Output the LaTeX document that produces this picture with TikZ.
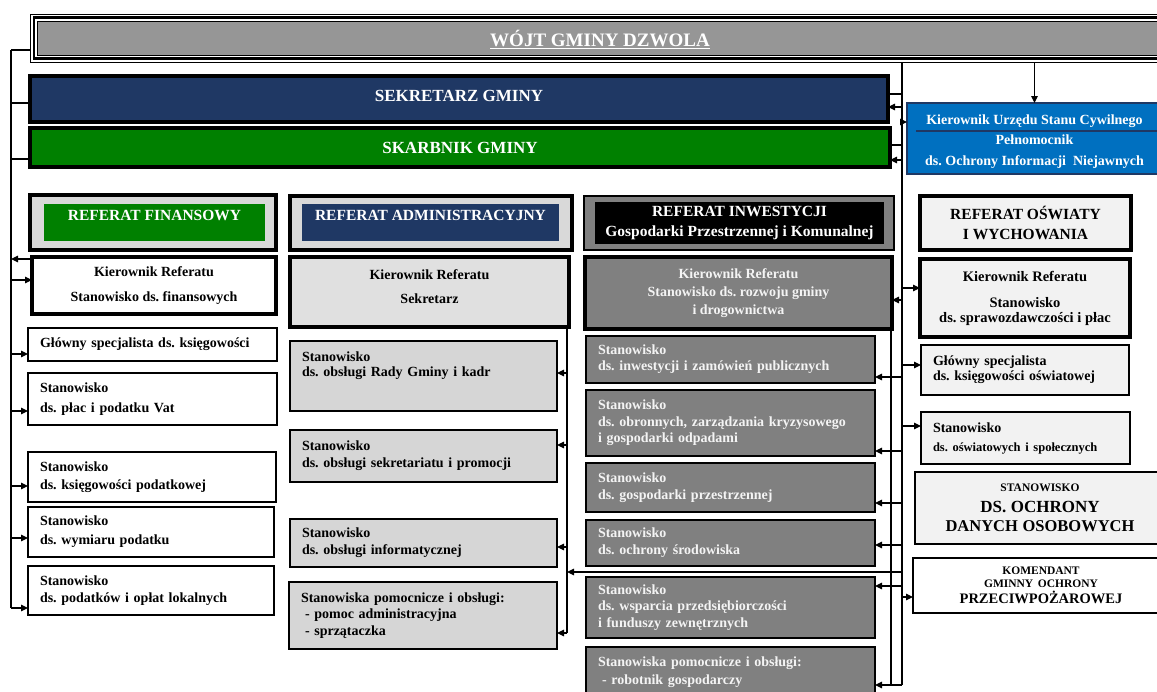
\documentclass[tikz,border=0pt]{standalone}
\usepackage{fontspec}
\setmainfont{Liberation Serif}
\usetikzlibrary{arrows.meta,calc}
\newcommand\myfs[2]{\fontsize{#1}{#2}\selectfont}
\frenchspacing
\definecolor{wojtgrey}{HTML}{969696}
\definecolor{navy}{HTML}{1F3864}
\definecolor{sgreen}{HTML}{008000}
\definecolor{ring}{HTML}{D9D9D9}
\definecolor{usc}{HTML}{0070C0}
\definecolor{invgrey}{HTML}{808080}
\definecolor{invtext}{HTML}{F4F4F4}
\definecolor{lightbox}{HTML}{F2F2F2}
\definecolor{admk}{HTML}{E0E0E0}
\definecolor{admstip}{HTML}{D6D6D6}
\tikzset{
  conn/.style={line width=1.2pt},
  arr/.style={line width=1.2pt,-{Triangle[length=7pt,width=6.5pt]}},
  bxat/.style n args={4}{at={(#1,#2)},anchor=north west,minimum width={#3-#1},minimum height={#4-#2}},
  boxbase/.style={rectangle,inner sep=0pt,outer sep=0pt,font=\bfseries\myfs{14}{18}},
  wbox/.style={boxbase,draw=black,line width=2.5pt,fill=white},
  kbox/.style={wbox,line width=3.5pt},
  abox/.style={boxbase,draw=black,line width=2.5pt,fill=admstip},
  ibox/.style={boxbase,draw=black,line width=2.5pt,fill=invgrey,text=invtext},
  rbox/.style={boxbase,draw=black,line width=2.5pt,fill=lightbox},
  ltext/.style={align=left,text width=#1},
  hdrout/.style={boxbase,draw=black,line width=4pt,fill=ring},
}
\begin{document}
\begin{tikzpicture}[x=1pt,y=-1pt]
\useasboundingbox (0,0) rectangle (1157,691);
\fill[white] (0,0) rectangle (1157,691);
\clip (0,0) rectangle (1157,691);

% ---------- top ----------
\node[boxbase,draw=black,line width=1pt,bxat={30}{14}{1175}{62}] (wojtout) {};
\node[boxbase,draw=black,line width=2.5pt,bxat={33.8}{17.4}{1175}{58.4}] (wojtmid) {};
\node[boxbase,draw=black,line width=0.8pt,fill=wojtgrey,text=white,font=\bfseries\myfs{19}{23},
      text height=20pt,text depth=2.6pt,bxat={37}{21}{1163}{55}] (wojt) {\underline{WÓJT GMINY DZWOLA}};

\node[boxbase,draw=black,line width=4pt,fill=navy,text=white,font=\bfseries\myfs{17}{20},
      text depth=6pt,bxat={30}{76}{888}{122}] (sek) {SEKRETARZ GMINY};
\node[boxbase,draw=black,line width=4pt,fill=sgreen,text=white,font=\bfseries\myfs{17}{20},
      bxat={30}{128}{890}{167}] (skarb) {SKARBNIK GMINY};

\node[boxbase,draw=navy,line width=2.5pt,fill=usc,bxat={907}{103}{1162}{174}] (usc) {};
\draw[navy,line width=1.5pt] ($(usc.north west)+(9,28)$) -- ($(usc.north east)+(0,28)$);
\node[boxbase,text=white,align=center,font=\bfseries\myfs{14}{20.5}] (usct) at (1034.5,141.5)
  {Kierownik Urzędu Stanu Cywilnego\\Pełnomocnik\\ds. Ochrony Informacji\ \ Niejawnych};

% ---------- referat headers ----------
\node[hdrout,bxat={30}{195}{276}{250}] (finH) {};
\node[boxbase,fill=sgreen,text=white,font=\bfseries\myfs{15.5}{19},text height=11pt,text depth=15pt,
      bxat={44}{204}{265}{241}] (finHin) {REFERAT FINANSOWY};
\node[hdrout,bxat={290}{196}{572}{250}] (admH) {};
\node[boxbase,fill=navy,text=white,font=\bfseries\myfs{15.5}{19},text height=11pt,text depth=15pt,
      bxat={302}{204}{559}{241}] (admHin) {REFERAT ADMINISTRACYJNY};
\node[boxbase,draw=black,line width=1.5pt,fill=invgrey,bxat={584}{196}{894}{250}] (invH) {};
\node[boxbase,fill=black,text=white,align=center,font=\bfseries\myfs{15.5}{20},
      bxat={595}{202}{884}{244}] (invHin) {REFERAT INWESTYCJI\\Gospodarki Przestrzennej i Komunalnej};
\node[boxbase,draw=black,line width=4pt,fill=lightbox,align=center,font=\bfseries\myfs{15.5}{20},
      bxat={920}{196}{1131}{250}] (oswH) {REFERAT OŚWIATY\\I WYCHOWANIA};

% ---------- finanse ----------
\node[kbox,align=center,font=\bfseries\myfs{14}{25},bxat={32}{257}{276}{314}] (f1) {Kierownik Referatu\\Stanowisko ds. finansowych};
\node[wbox,ltext=225pt,bxat={28}{328}{277}{361}] (f2) {Główny specjalista ds. księgowości};
\node[wbox,ltext=225pt,font=\bfseries\myfs{14}{20},bxat={28}{373}{277}{425}] (f3) {Stanowisko\\ds. płac i podatku Vat};
\node[wbox,ltext=224pt,font=\bfseries\myfs{14}{18},bxat={28}{452}{276}{502}] (f4) {Stanowisko\\ds. księgowości podatkowej};
\node[wbox,ltext=222pt,font=\bfseries\myfs{14}{19},bxat={28}{507}{274}{557}] (f5) {Stanowisko\\ds. wymiaru podatku};
\node[wbox,ltext=222pt,font=\bfseries\myfs{14}{17},bxat={28}{566}{274}{615}] (f6) {Stanowisko\\ds. podatków i opłat lokalnych};

% ---------- administracja ----------
\node[kbox,fill=admk,align=center,font=\bfseries\myfs{14}{24},bxat={290}{257}{569}{327}] (a1) {Kierownik Referatu\\Sekretarz\\[-14pt]\mbox{}};
\node[abox,ltext=243pt,font=\bfseries\myfs{14}{15},bxat={290}{341}{557}{411}] (a2) {Stanowisko\\ds. obsługi Rady Gminy i kadr\\[9pt]\mbox{}};
\node[abox,ltext=243pt,font=\bfseries\myfs{14}{17},bxat={290}{430}{557}{482}] (a3) {Stanowisko\\ds. obsługi sekretariatu i promocji};
\node[abox,ltext=243pt,font=\bfseries\myfs{14}{17},bxat={290}{519}{557}{567}] (a4) {Stanowisko\\ds. obsługi informatycznej};
\node[abox,ltext=244pt,font=\bfseries\myfs{14}{16.5},bxat={289}{582}{557}{649}] (a5) {Stanowiska pomocnicze i obsługi:\\\hspace*{4pt}- pomoc administracyjna\\\hspace*{4pt}- sprzątaczka};

% ---------- inwestycje ----------
\node[ibox,line width=3.5pt,align=center,font=\bfseries\myfs{14}{18},bxat={585}{257}{892}{329}] (i1) {Kierownik Referatu\\Stanowisko ds. rozwoju gminy\\i drogownictwa};
\node[ibox,ltext=265pt,font=\bfseries\myfs{14}{16},bxat={586}{336}{875}{383}] (i2) {Stanowisko\\ds. inwestycji i zamówień publicznych};
\node[ibox,ltext=265pt,font=\bfseries\myfs{14}{16.5},bxat={586}{390}{875}{456}] (i3) {Stanowisko\\ds. obronnych, zarządzania kryzysowego\\i gospodarki odpadami};
\node[ibox,ltext=265pt,font=\bfseries\myfs{14}{17},bxat={586}{463}{875}{512}] (i4) {Stanowisko\\ds. gospodarki przestrzennej};
\node[ibox,ltext=265pt,font=\bfseries\myfs{14}{17},bxat={586}{520}{875}{566}] (i5) {Stanowisko\\ds. ochrony środowiska};
\node[ibox,ltext=265pt,font=\bfseries\myfs{14}{16.5},bxat={586}{577}{875}{638}] (i6) {Stanowisko\\ds. wsparcia przedsiębiorczości\\i funduszy zewnętrznych};
\node[ibox,ltext=265pt,font=\bfseries\myfs{14}{18},bxat={586}{647}{875}{698}] (i7) {Stanowiska pomocnicze i obsługi:\\\hspace*{4pt}- robotnik gospodarczy};

% ---------- oswiata ----------
\node[rbox,line width=3.5pt,align=center,font=\bfseries\myfs{14.5}{15},bxat={920}{259}{1130}{337}] (r2) {Kierownik Referatu\\[11pt]Stanowisko\\ds. sprawozdawczości i płac};
\node[rbox,ltext=184pt,font=\bfseries\myfs{14}{15},bxat={921}{345}{1129}{395}] (r3) {Główny specjalista\\ds. księgowości oświatowej};
\node[rbox,ltext=185pt,font=\bfseries\myfs{14}{19},bxat={921}{412}{1130}{464}] (r4) {Stanowisko\\{\myfs{12.5}{19}ds. oświatowych i społecznych}};
\node[rbox,align=center,text width=230pt,bxat={915}{472}{1165}{544}] (r5)
  {{\myfs{11.5}{14}STANOWISKO\par}{\myfs{17}{21}DS. OCHRONY\par}{\myfs{16.5}{19}DANYCH OSOBOWYCH\par}};
\node[wbox,align=center,text width=230pt,bxat={913}{558}{1169}{613}] (r6)
  {{\myfs{11.5}{13}KOMENDANT\par}{\myfs{11.5}{13}GMINNY OCHRONY\par}{\myfs{14.5}{16}PRZECIWPOŻAROWEJ\par}};

% ---------- left line ----------
\coordinate (lt) at (11,50);
\coordinate (lb) at (11,608);
\draw[conn] (lt) -- (lb);
\draw[conn] (lt) -- (lt -| wojtout.west);
\coordinate (ls) at (11,103); \draw[conn] (ls) -- (ls -| sek.west);
\coordinate (lk) at (11,159); \draw[conn] (lk) -- (lk -| skarb.west);
\coordinate (lf0) at (11,259); \draw[arr] (lf0 -| f1.west) -- (lf0);
\coordinate (lf1) at (11,280); \draw[arr] (lf1) -- (lf1 -| f1.west);
\coordinate (lf2) at (11,354); \draw[arr] (lf2) -- (lf2 -| f2.west);
\coordinate (lf3) at (11,411); \draw[arr] (lf3) -- (lf3 -| f3.west);
\coordinate (lf4) at (11,486); \draw[arr] (lf4) -- (lf4 -| f4.west);
\coordinate (lf5) at (11,538); \draw[arr] (lf5) -- (lf5 -| f5.west);
\draw[arr] (lb) -- (lb -| f6.west);

% ---------- main line ----------
\coordinate (mb) at (902,685);
\draw[conn] (mb |- wojtout.south) -- (mb);
\coordinate (ms1) at (902,94);  \draw[conn] (ms1) -- (ms1 -| sek.east);
\coordinate (ms2) at (902,107); \draw[arr] (ms2) -- (ms2 -| sek.east);
\coordinate (mk1) at (902,145); \draw[conn] (mk1) -- (mk1 -| skarb.east);
\coordinate (mk2) at (902,160); \draw[arr] (mk2) -- (mk2 -| skarb.east);
\coordinate (mu) at (902,122);  \draw[arr] (mu) -- (mu -| usc.west);
\draw[arr] (usc.north |- wojtout.south) -- (usc.north);

\coordinate (mr2) at (902,288); \draw[arr] (mr2) -- (mr2 -| r2.west);
\coordinate (mr3) at (902,365); \draw[arr] (mr3) -- (mr3 -| r3.west);
\coordinate (mr4) at (902,426); \draw[arr] (mr4) -- (mr4 -| r4.west);
\coordinate (mr6) at (902,597); \draw[arr] (mr6) -- (mr6 -| r6.west);

\coordinate (mi1) at (902,300); \draw[arr] (mi1) -- (mi1 -| i1.east);
\coordinate (mi2) at (902,377); \draw[arr] (mi2) -- (mi2 -| i2.east);
\coordinate (mi3) at (902,451); \draw[arr] (mi3) -- (mi3 -| i3.east);
\coordinate (mi4) at (902,503); \draw[arr] (mi4) -- (mi4 -| i4.east);
\coordinate (mi5) at (902,545); \draw[arr] (mi5) -- (mi5 -| i5.east);
\coordinate (mi6) at (902,586); \draw[arr] (mi6) -- (mi6 -| i6.east);
\draw[arr] (mb) -- (mb -| i7.east);

\coordinate (ib) at (891,685);
\draw[conn] (ib |- i1.south) -- (ib);

% ---------- admin line ----------
\coordinate (ab) at (567,633);
\draw[conn] (ab |- a1.south) -- (ab);
\coordinate (aj) at (567,572); \draw[arr] (aj -| mb) -- (aj);
\coordinate (aa2) at (567,373); \draw[arr] (aa2) -- (aa2 -| a2.east);
\coordinate (aa3) at (567,445); \draw[arr] (aa3) -- (aa3 -| a3.east);
\coordinate (aa4) at (567,547); \draw[arr] (aa4) -- (aa4 -| a4.east);
\draw[arr] (ab) -- (ab -| a5.east);
\end{tikzpicture}
\end{document}
